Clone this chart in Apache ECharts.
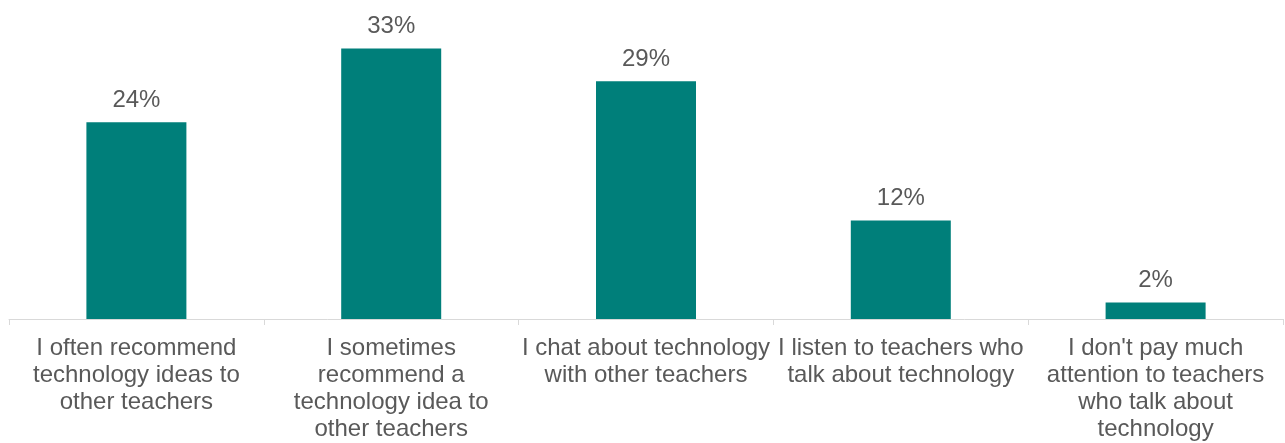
<!DOCTYPE html>
<html>
<head>
<meta charset="utf-8">
<style>
  html, body { margin: 0; padding: 0; background: #fff; }
  #chart { width: 1285px; height: 443px; }
</style>
<script src="https://cdn.jsdelivr.net/npm/echarts@6/dist/echarts.min.js"></script>
</head>
<body>
<div id="chart"></div>
<script>
// Category labels (pre-wrapped) and share of teachers per answer, in percent
const categories = [
  "I often recommend\ntechnology ideas to\nother teachers",
  "I sometimes\nrecommend a\ntechnology idea to\nother teachers",
  "I chat about technology\nwith other teachers",
  "I listen to teachers who\ntalk about technology",
  "I don't pay much\nattention to teachers\nwho talk about\ntechnology"
];
const shares = [24, 33, 29, 12, 2];

const chart = echarts.init(document.getElementById('chart'), null, { renderer: 'canvas' });
const textColor = '#595959';
const fontFamily = 'Liberation Sans, Arial, sans-serif';

chart.setOption({
  animation: false,
  backgroundColor: '#ffffff',
  grid: { left: 9, right: 2, top: 32, bottom: 123, containLabel: false },
  xAxis: {
    type: 'category',
    data: categories,
    axisLine: { show: true, lineStyle: { color: '#D9D9D9', width: 1 } },
    axisTick: { show: true, length: 6, lineStyle: { color: '#D9D9D9' } },
    axisLabel: {
      interval: 0,
      margin: 16,
      color: textColor,
      fontFamily: fontFamily,
      fontSize: 24,
      lineHeight: 27,
      align: 'center'
    }
  },
  yAxis: {
    type: 'value',
    min: 0,
    max: 35,
    show: false,
    splitLine: { show: false }
  },
  series: [{
    type: 'bar',
    data: shares,
    barWidth: 100,
    itemStyle: { color: '#007F7A' },
    label: {
      show: true,
      position: 'top',
      distance: 10,
      formatter: p => p.value + '%',
      color: textColor,
      fontFamily: fontFamily,
      fontSize: 24
    }
  }]
});
</script>
</body>
</html>
